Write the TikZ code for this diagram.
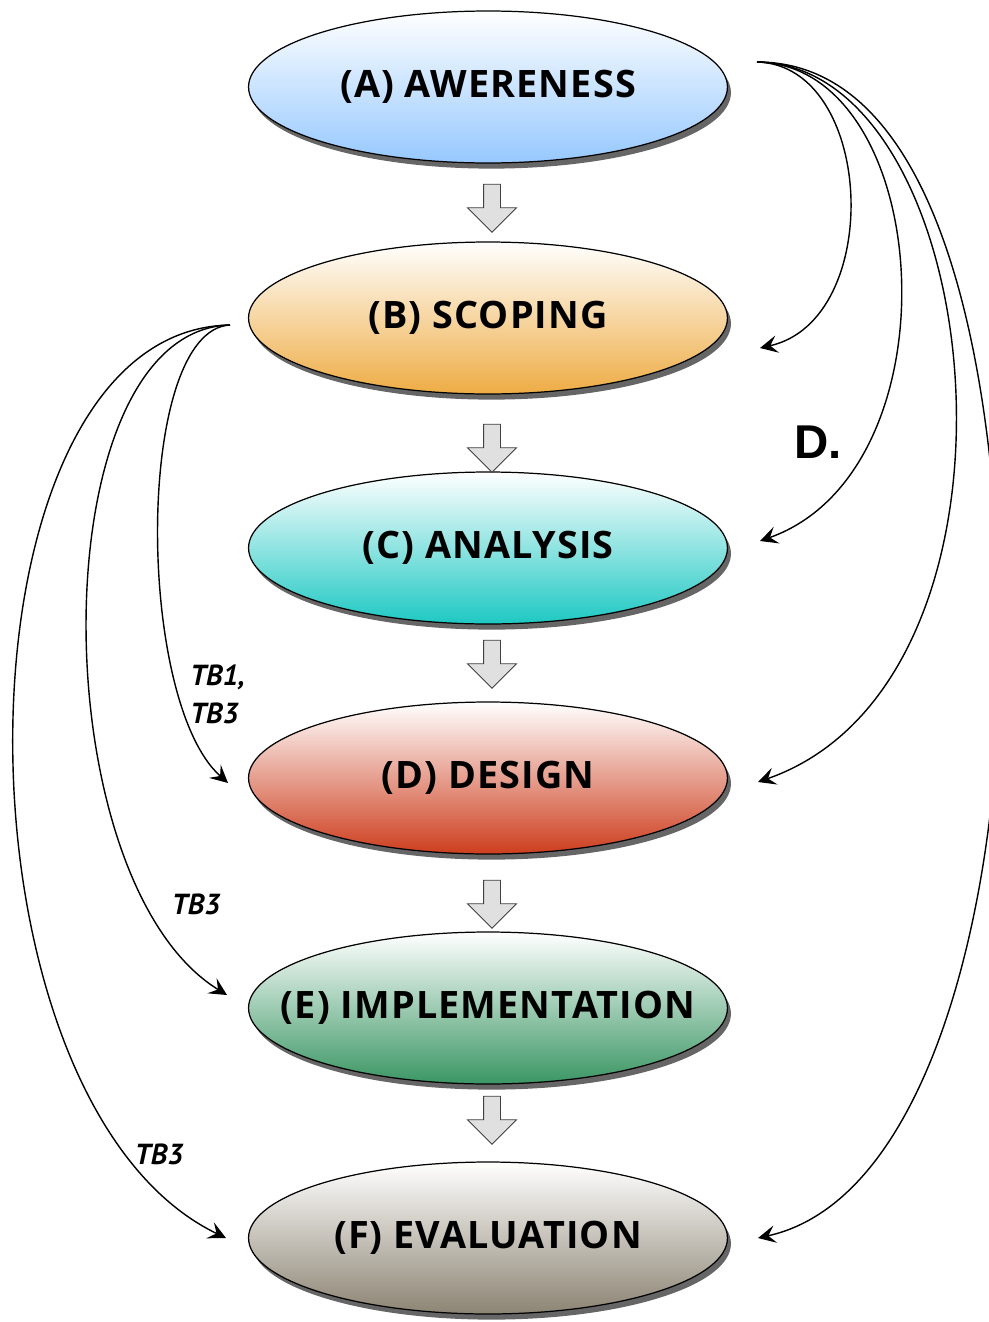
\documentclass[tikz,border=0pt]{standalone}
\usepackage{fontspec}
\setmainfont{Open Sans}
\newfontfamily\stagefont[LetterSpace=3]{Open Sans}
\newfontfamily\tbfont{PT Sans}
\newfontfamily\markfont{Liberation Sans}
\usetikzlibrary{arrows.meta,shapes.geometric,shapes.arrows,shadows,positioning}
\definecolor{aweblue}{RGB}{150,200,255}
\definecolor{scopeorange}{RGB}{238,172,68}
\definecolor{anateal}{RGB}{30,200,195}
\definecolor{designred}{RGB}{205,62,30}
\definecolor{implgreen}{RGB}{58,150,100}
\definecolor{evalgray}{RGB}{140,132,115}
\newcommand{\stagetext}[1]{\makebox[0pt]{\stagefont\bfseries\fontsize{21.5}{26}\selectfont #1}}
\tikzset{
  stage/.style={ellipse, draw=black, line width=0.7pt,
    minimum width=9.58cm, minimum height=3.04cm, inner sep=0pt,
    top color=white, bottom color=#1,
    drop shadow={shadow xshift=2pt, shadow yshift=-3.2pt, fill=black!60, opacity=1}},
  stepdown/.style={single arrow, draw=black!75, fill=black!12, line width=0.5pt,
    shape border rotate=270, minimum height=0.96cm, minimum width=0.92cm,
    single arrow head extend=0.32cm, inner sep=0.16cm},
  feedback/.style={line width=0.8pt, -{Stealth[length=10pt,width=10pt,inset=4pt]}},
  tblabel/.style={inner sep=0pt, font=\tbfont\bfseries\itshape\fontsize{16.5}{21.5}\selectfont}
}

\begin{document}
\begin{tikzpicture}[x=0.02cm,y=-0.02cm]
    \useasboundingbox (0,0) rectangle (989,1322);
    % stages
    \node[stage=aweblue] (a) at (488,87) {\stagetext{(A) AWERENESS}};
    \node[stage=scopeorange] (b) at (488,318) {\stagetext{(B) SCOPING}};
    \node[stage=anateal] (c) at (488,548) {\stagetext{(C) ANALYSIS}};
    \node[stage=designred] (d) at (488,778) {\stagetext{(D) DESIGN}};
    \node[stage=implgreen] (e) at (488,1008) {\stagetext{(E) IMPLEMENTATION}};
    \node[stage=evalgray] (f) at (488,1238) {\stagetext{(F) EVALUATION}};
    % block arrows
    \node[stepdown] (ab) at (492,204) {};
    \node[stepdown] (bc) at (492,444) {};
    \node[stepdown] (cd) at (492,660) {};
    \node[stepdown] (de) at (492,900) {};
    \node[stepdown] (ef) at (492,1116) {};
    % loose ends
    \coordinate (aout) at (757,62);
    \coordinate (bin) at (760,348);
    \coordinate (cin) at (760,541);
    \coordinate (din) at (758,782);
    \coordinate (fin) at (758,1238);
    \coordinate (bout) at (230,325);
    \coordinate (dleft) at (228,783);
    \coordinate (eleft) at (227,995);
    \coordinate (fleft) at (226,1238);
    % right side
    \draw[feedback] (aout) .. controls (875,65) and (885,320) .. (bin);
    \draw[feedback] (aout) .. controls (935,65) and (960,470) .. (cin);
    \draw[feedback] (aout) .. controls (990,65) and (1050,680) .. (din);
    \draw[feedback] (aout) .. controls (950,62) and (1000,400) .. (1000,650)
        .. controls (1000,900) and (930,1200) .. (fin);
    % left side
    \draw[feedback] (bout) .. controls (135,330) and (135,700) .. (dleft);
    \draw[feedback] (bout) .. controls (40,330) and (40,880) .. (eleft);
    \draw[feedback] (bout) .. controls (-55,330) and (-60,1100) .. (fleft);
    \node[tblabel, anchor=west, align=left] (tbd) at (190,694) {TB1,\\TB3};
    \node[tblabel] (tbe) at (196,904) {TB3};
    \node[tblabel] (tbf) at (159,1154) {TB3};
    \node[inner sep=0pt] (dmark) at (818,442) {\markfont\bfseries\fontsize{27}{30}\selectfont D.};
\end{tikzpicture}
\end{document}
